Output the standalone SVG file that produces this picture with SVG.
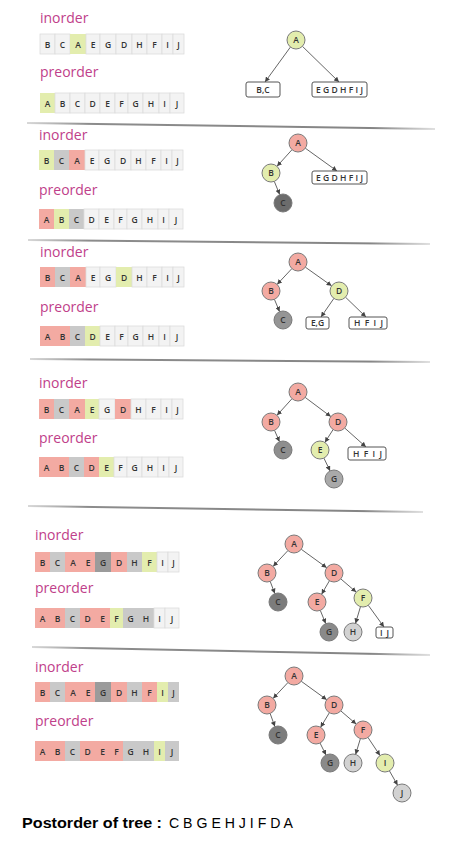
<svg xmlns="http://www.w3.org/2000/svg" width="467" height="848" viewBox="0 0 467 848">
<style>
.lbl{font-family:"Open Sans","Liberation Sans",sans-serif;font-size:14px;fill:#c0408a}
.cell text,.ct{font-family:"Open Sans","Liberation Sans",sans-serif;font-size:8.5px;font-weight:600;fill:#333;text-anchor:middle}
.s{fill:#f3aaa2}.g{fill:#c9c9c9}.d{fill:#9b9b9b}.y{fill:#e3edae}.w{fill:#f3f3f3;stroke:#dcdcdc;stroke-width:0.8}
.nd{stroke:#7a7a7a;stroke-width:1}
.nt{font-family:"Open Sans","Liberation Sans",sans-serif;font-size:8.5px;font-weight:600;fill:#333;text-anchor:middle}
.bx{fill:#fff;stroke:#555;stroke-width:1}
.bt{font-family:"Open Sans","Liberation Sans",sans-serif;font-size:8.5px;font-weight:600;fill:#333}
.bc{font-family:"Open Sans","Liberation Sans",sans-serif;font-size:8.5px;font-weight:600;fill:#333;text-anchor:middle}
.e{stroke:#666;stroke-width:1;fill:none;marker-end:url(#ah)}
.sep{stroke:url(#sg);stroke-width:2;fill:none}
</style>
<defs>
<marker id="ah" viewBox="0 0 6 6" refX="6" refY="3" markerWidth="5" markerHeight="5" markerUnits="userSpaceOnUse" orient="auto"><path d="M0,0 L6,3 L0,6 z" fill="#444"/></marker>
<linearGradient id="sg" x1="0" y1="0" x2="1" y2="0"><stop offset="0" stop-color="#d8d8d8"/><stop offset="0.15" stop-color="#8c8c8c"/><stop offset="0.85" stop-color="#858585"/><stop offset="1" stop-color="#e0e0e0"/></linearGradient>
</defs>
<rect width="467" height="848" fill="#fff"/>

<!-- separators -->
<g id="separators">
<path class="sep" d="M27,123 L435,129"/>
<path class="sep" d="M28,240 L430,244"/>
<path class="sep" d="M30,359 L430,362"/>
<path class="sep" d="M28,506 L423,512"/>
<path class="sep" d="M32,647 L430,655"/>
</g>

<!-- labels -->
<g id="labels">
<text class="lbl" x="40" y="23">inorder</text>
<text class="lbl" x="40" y="77">preorder</text>
<text class="lbl" x="39" y="140">inorder</text>
<text class="lbl" x="39" y="195">preorder</text>
<text class="lbl" x="40" y="257">inorder</text>
<text class="lbl" x="40" y="312">preorder</text>
<text class="lbl" x="39" y="388">inorder</text>
<text class="lbl" x="39" y="443">preorder</text>
<text class="lbl" x="35" y="540">inorder</text>
<text class="lbl" x="35" y="593">preorder</text>
<text class="lbl" x="35" y="672">inorder</text>
<text class="lbl" x="35" y="726">preorder</text>
</g>

<!-- Panel 1 arrays -->
<g id="p1-in" class="cell" transform="translate(40,34)">
<rect class="w" x="0" width="15" height="20"/><rect class="w" x="15" width="15" height="20"/><rect class="y" x="30" width="16" height="20"/><rect class="w" x="46" width="14" height="20"/><rect class="w" x="60" width="16" height="20"/><rect class="w" x="76" width="16" height="20"/><rect class="w" x="92" width="15" height="20"/><rect class="w" x="107" width="15" height="20"/><rect class="w" x="122" width="11" height="20"/><rect class="w" x="133" width="11" height="20"/>
<text x="7.5" y="14">B</text><text x="22.5" y="14">C</text><text x="38" y="14">A</text><text x="53" y="14">E</text><text x="68" y="14">G</text><text x="84" y="14">D</text><text x="99.5" y="14">H</text><text x="114.5" y="14">F</text><text x="127.5" y="14">I</text><text x="138.5" y="14">J</text>
</g>
<g id="p1-pre" class="cell" transform="translate(40,93)">
<rect class="y" x="0" width="15" height="20"/><rect class="w" x="15" width="15" height="20"/><rect class="w" x="30" width="15" height="20"/><rect class="w" x="45" width="15" height="20"/><rect class="w" x="60" width="15" height="20"/><rect class="w" x="75" width="13" height="20"/><rect class="w" x="88" width="15" height="20"/><rect class="w" x="103" width="16" height="20"/><rect class="w" x="119" width="11" height="20"/><rect class="w" x="130" width="14" height="20"/>
<text x="7.5" y="14">A</text><text x="22.5" y="14">B</text><text x="37.5" y="14">C</text><text x="52.5" y="14">D</text><text x="67.5" y="14">E</text><text x="81.5" y="14">F</text><text x="95.5" y="14">G</text><text x="111" y="14">H</text><text x="124.5" y="14">I</text><text x="137" y="14">J</text>
</g>

<!-- Panel 2 arrays -->
<g id="p2-in" class="cell" transform="translate(39,150)">
<rect class="y" x="0" width="15" height="20"/><rect class="g" x="15" width="15" height="20"/><rect class="s" x="30" width="16" height="20"/><rect class="w" x="46" width="14" height="20"/><rect class="w" x="60" width="16" height="20"/><rect class="w" x="76" width="16" height="20"/><rect class="w" x="92" width="15" height="20"/><rect class="w" x="107" width="15" height="20"/><rect class="w" x="122" width="11" height="20"/><rect class="w" x="133" width="11" height="20"/>
<text x="7.5" y="14">B</text><text x="22.5" y="14">C</text><text x="38" y="14">A</text><text x="53" y="14">E</text><text x="68" y="14">G</text><text x="84" y="14">D</text><text x="99.5" y="14">H</text><text x="114.5" y="14">F</text><text x="127.5" y="14">I</text><text x="138.5" y="14">J</text>
</g>
<g id="p2-pre" class="cell" transform="translate(39,209)">
<rect class="s" x="0" width="15" height="20"/><rect class="y" x="15" width="15" height="20"/><rect class="g" x="30" width="15" height="20"/><rect class="w" x="45" width="15" height="20"/><rect class="w" x="60" width="15" height="20"/><rect class="w" x="75" width="13" height="20"/><rect class="w" x="88" width="15" height="20"/><rect class="w" x="103" width="16" height="20"/><rect class="w" x="119" width="11" height="20"/><rect class="w" x="130" width="14" height="20"/>
<text x="7.5" y="14">A</text><text x="22.5" y="14">B</text><text x="37.5" y="14">C</text><text x="52.5" y="14">D</text><text x="67.5" y="14">E</text><text x="81.5" y="14">F</text><text x="95.5" y="14">G</text><text x="111" y="14">H</text><text x="124.5" y="14">I</text><text x="137" y="14">J</text>
</g>

<!-- Panel 3 arrays -->
<g id="p3-in" class="cell" transform="translate(40,267)">
<rect class="s" x="0" width="15" height="20"/><rect class="g" x="15" width="15" height="20"/><rect class="s" x="30" width="16" height="20"/><rect class="w" x="46" width="14" height="20"/><rect class="w" x="60" width="16" height="20"/><rect class="y" x="76" width="16" height="20"/><rect class="w" x="92" width="15" height="20"/><rect class="w" x="107" width="15" height="20"/><rect class="w" x="122" width="11" height="20"/><rect class="w" x="133" width="11" height="20"/>
<text x="7.5" y="14">B</text><text x="22.5" y="14">C</text><text x="38" y="14">A</text><text x="53" y="14">E</text><text x="68" y="14">G</text><text x="84" y="14">D</text><text x="99.5" y="14">H</text><text x="114.5" y="14">F</text><text x="127.5" y="14">I</text><text x="138.5" y="14">J</text>
</g>
<g id="p3-pre" class="cell" transform="translate(40,326)">
<rect class="s" x="0" width="15" height="20"/><rect class="s" x="15" width="15" height="20"/><rect class="g" x="30" width="15" height="20"/><rect class="y" x="45" width="15" height="20"/><rect class="w" x="60" width="15" height="20"/><rect class="w" x="75" width="13" height="20"/><rect class="w" x="88" width="15" height="20"/><rect class="w" x="103" width="16" height="20"/><rect class="w" x="119" width="11" height="20"/><rect class="w" x="130" width="14" height="20"/>
<text x="7.5" y="14">A</text><text x="22.5" y="14">B</text><text x="37.5" y="14">C</text><text x="52.5" y="14">D</text><text x="67.5" y="14">E</text><text x="81.5" y="14">F</text><text x="95.5" y="14">G</text><text x="111" y="14">H</text><text x="124.5" y="14">I</text><text x="137" y="14">J</text>
</g>

<!-- Panel 4 arrays -->
<g id="p4-in" class="cell" transform="translate(39,399)">
<rect class="s" x="0" width="15" height="20"/><rect class="g" x="15" width="15" height="20"/><rect class="s" x="30" width="16" height="20"/><rect class="y" x="46" width="14" height="20"/><rect class="w" x="60" width="16" height="20"/><rect class="s" x="76" width="16" height="20"/><rect class="w" x="92" width="15" height="20"/><rect class="w" x="107" width="15" height="20"/><rect class="w" x="122" width="11" height="20"/><rect class="w" x="133" width="11" height="20"/>
<text x="7.5" y="14">B</text><text x="22.5" y="14">C</text><text x="38" y="14">A</text><text x="53" y="14">E</text><text x="68" y="14">G</text><text x="84" y="14">D</text><text x="99.5" y="14">H</text><text x="114.5" y="14">F</text><text x="127.5" y="14">I</text><text x="138.5" y="14">J</text>
</g>
<g id="p4-pre" class="cell" transform="translate(39,457)">
<rect class="s" x="0" width="15" height="20"/><rect class="s" x="15" width="15" height="20"/><rect class="g" x="30" width="15" height="20"/><rect class="s" x="45" width="15" height="20"/><rect class="y" x="60" width="15" height="20"/><rect class="w" x="75" width="13" height="20"/><rect class="w" x="88" width="15" height="20"/><rect class="w" x="103" width="16" height="20"/><rect class="w" x="119" width="11" height="20"/><rect class="w" x="130" width="14" height="20"/>
<text x="7.5" y="14">A</text><text x="22.5" y="14">B</text><text x="37.5" y="14">C</text><text x="52.5" y="14">D</text><text x="67.5" y="14">E</text><text x="81.5" y="14">F</text><text x="95.5" y="14">G</text><text x="111" y="14">H</text><text x="124.5" y="14">I</text><text x="137" y="14">J</text>
</g>

<!-- Panel 5 arrays -->
<g id="p5-in" class="cell" transform="translate(35,552)">
<rect class="s" x="0" width="15" height="20"/><rect class="g" x="15" width="15" height="20"/><rect class="s" x="30" width="16" height="20"/><rect class="s" x="46" width="14" height="20"/><rect class="d" x="60" width="16" height="20"/><rect class="s" x="76" width="16" height="20"/><rect class="g" x="92" width="15" height="20"/><rect class="y" x="107" width="15" height="20"/><rect class="w" x="122" width="11" height="20"/><rect class="w" x="133" width="11" height="20"/>
<text x="7.5" y="14">B</text><text x="22.5" y="14">C</text><text x="38" y="14">A</text><text x="53" y="14">E</text><text x="68" y="14">G</text><text x="84" y="14">D</text><text x="99.5" y="14">H</text><text x="114.5" y="14">F</text><text x="127.5" y="14">I</text><text x="138.5" y="14">J</text>
</g>
<g id="p5-pre" class="cell" transform="translate(35,608)">
<rect class="s" x="0" width="15" height="20"/><rect class="s" x="15" width="15" height="20"/><rect class="g" x="30" width="15" height="20"/><rect class="s" x="45" width="15" height="20"/><rect class="s" x="60" width="15" height="20"/><rect class="y" x="75" width="13" height="20"/><rect class="g" x="88" width="15" height="20"/><rect class="g" x="103" width="16" height="20"/><rect class="w" x="119" width="11" height="20"/><rect class="w" x="130" width="14" height="20"/>
<text x="7.5" y="14">A</text><text x="22.5" y="14">B</text><text x="37.5" y="14">C</text><text x="52.5" y="14">D</text><text x="67.5" y="14">E</text><text x="81.5" y="14">F</text><text x="95.5" y="14">G</text><text x="111" y="14">H</text><text x="124.5" y="14">I</text><text x="137" y="14">J</text>
</g>

<!-- Panel 6 arrays -->
<g id="p6-in" class="cell" transform="translate(35,682)">
<rect class="s" x="0" width="15" height="20"/><rect class="g" x="15" width="15" height="20"/><rect class="s" x="30" width="16" height="20"/><rect class="s" x="46" width="14" height="20"/><rect class="d" x="60" width="16" height="20"/><rect class="s" x="76" width="16" height="20"/><rect class="g" x="92" width="15" height="20"/><rect class="s" x="107" width="15" height="20"/><rect class="y" x="122" width="11" height="20"/><rect class="g" x="133" width="11" height="20"/>
<text x="7.5" y="14">B</text><text x="22.5" y="14">C</text><text x="38" y="14">A</text><text x="53" y="14">E</text><text x="68" y="14">G</text><text x="84" y="14">D</text><text x="99.5" y="14">H</text><text x="114.5" y="14">F</text><text x="127.5" y="14">I</text><text x="138.5" y="14">J</text>
</g>
<g id="p6-pre" class="cell" transform="translate(35,741)">
<rect class="s" x="0" width="15" height="20"/><rect class="s" x="15" width="15" height="20"/><rect class="g" x="30" width="15" height="20"/><rect class="s" x="45" width="15" height="20"/><rect class="s" x="60" width="15" height="20"/><rect class="s" x="75" width="13" height="20"/><rect class="g" x="88" width="15" height="20"/><rect class="g" x="103" width="16" height="20"/><rect class="y" x="119" width="11" height="20"/><rect class="g" x="130" width="14" height="20"/>
<text x="7.5" y="14">A</text><text x="22.5" y="14">B</text><text x="37.5" y="14">C</text><text x="52.5" y="14">D</text><text x="67.5" y="14">E</text><text x="81.5" y="14">F</text><text x="95.5" y="14">G</text><text x="111" y="14">H</text><text x="124.5" y="14">I</text><text x="137" y="14">J</text>
</g>

<!-- connectors -->
<g id="connectors">
<line class="e" x1="290.4" y1="47.1" x2="265" y2="82"/>
<line class="e" x1="302.4" y1="46.3" x2="339" y2="82"/>

<line class="e" x1="292" y1="149.7" x2="277" y2="166.3"/>
<line class="e" x1="274.3" y1="181.4" x2="279.7" y2="194.6"/>
<line class="e" x1="305.3" y1="148.2" x2="337" y2="171"/>

<line class="e" x1="291.9" y1="268.6" x2="277.1" y2="284.4"/>
<line class="e" x1="305.4" y1="267.2" x2="331.6" y2="285.8"/>
<line class="e" x1="274.4" y1="299.3" x2="279.6" y2="311.7"/>
<line class="e" x1="333.9" y1="298.4" x2="321" y2="317"/>
<line class="e" x1="345.5" y1="297.2" x2="366" y2="317"/>

<line class="e" x1="292" y1="398.7" x2="277" y2="415.3"/>
<line class="e" x1="305.2" y1="397.4" x2="330.8" y2="416.6"/>
<line class="e" x1="274.5" y1="430.3" x2="279.5" y2="441.7"/>
<line class="e" x1="333.1" y1="429.6" x2="324.9" y2="442.4"/>
<line class="e" x1="344.7" y1="428" x2="366" y2="447"/>
<line class="e" x1="323.9" y1="458.1" x2="330.1" y2="470.9"/>

<line class="e" x1="287.9" y1="550.6" x2="273.1" y2="566.4"/>
<line class="e" x1="301.3" y1="549.3" x2="326.7" y2="567.7"/>
<line class="e" x1="270.2" y1="581.4" x2="274.8" y2="593.6"/>
<line class="e" x1="329.4" y1="580.8" x2="321.6" y2="594.2"/>
<line class="e" x1="340.8" y1="578.9" x2="356.2" y2="592.1"/>
<line class="e" x1="320.3" y1="610.4" x2="325.7" y2="623.6"/>
<line class="e" x1="360.5" y1="606.6" x2="355.5" y2="623.4"/>
<line class="e" x1="368.3" y1="605.3" x2="384" y2="627"/>

<line class="e" x1="287.9" y1="682.6" x2="273.1" y2="698.4"/>
<line class="e" x1="301.3" y1="681.3" x2="326.7" y2="699.7"/>
<line class="e" x1="270.1" y1="713.4" x2="274.9" y2="726.6"/>
<line class="e" x1="329.4" y1="712.7" x2="320.6" y2="727.3"/>
<line class="e" x1="340.8" y1="710.9" x2="356.2" y2="724.1"/>
<line class="e" x1="320" y1="743" x2="326" y2="755"/>
<line class="e" x1="360.4" y1="738.6" x2="355.6" y2="754.4"/>
<line class="e" x1="368" y1="737.5" x2="380" y2="755.5"/>
<line class="e" x1="389.4" y1="770.8" x2="397.6" y2="785.2"/>
</g>

<!-- Panel 1 tree -->
<g id="p1-A"><circle class="nd" cx="296" cy="40" r="9" fill="#e3edae"/><text class="nt" x="296" y="43">A</text></g>
<g id="p1-BC"><rect class="bx" x="246" y="82" width="34" height="15" rx="2"/><text class="bc" x="263" y="92.5">B,C</text></g>
<g id="p1-EGDHFIJ"><rect class="bx" x="312" y="82" width="55" height="15" rx="2"/><text class="bt" x="316" y="92.5" textLength="47" lengthAdjust="spacing">EGDHFIJ</text></g>

<!-- Panel 2 tree -->
<g id="p2-A"><circle class="nd" cx="298" cy="143" r="9" fill="#f3aaa2"/><text class="nt" x="298" y="146">A</text></g>
<g id="p2-B"><circle class="nd" cx="271" cy="173" r="9" fill="#e3edae"/><text class="nt" x="271" y="176">B</text></g>
<g id="p2-C"><circle class="nd" cx="283" cy="203" r="9" fill="#6c6c6c"/><text class="nt" x="283" y="206">C</text></g>
<g id="p2-EGDHFIJ"><rect class="bx" x="312" y="171" width="55" height="13" rx="2"/><text class="bt" x="316" y="180.5" textLength="47" lengthAdjust="spacing">EGDHFIJ</text></g>

<!-- Panel 3 tree -->
<g id="p3-A"><circle class="nd" cx="298" cy="262" r="9" fill="#f3aaa2"/><text class="nt" x="298" y="265">A</text></g>
<g id="p3-B"><circle class="nd" cx="271" cy="291" r="9" fill="#f3aaa2"/><text class="nt" x="271" y="294">B</text></g>
<g id="p3-D"><circle class="nd" cx="339" cy="291" r="9" fill="#e3edae"/><text class="nt" x="339" y="294">D</text></g>
<g id="p3-C"><circle class="nd" cx="283" cy="320" r="9" fill="#959595"/><text class="nt" x="283" y="323">C</text></g>
<g id="p3-EG"><rect class="bx" x="306" y="317" width="23" height="12" rx="2"/><text class="bc" x="317.5" y="326">E,G</text></g>
<g id="p3-HFIJ"><rect class="bx" x="349" y="317" width="38" height="12" rx="2"/><text class="bt" x="354" y="326" textLength="29" lengthAdjust="spacing">HFIJ</text></g>

<!-- Panel 4 tree -->
<g id="p4-A"><circle class="nd" cx="298" cy="392" r="9" fill="#f3aaa2"/><text class="nt" x="298" y="395">A</text></g>
<g id="p4-B"><circle class="nd" cx="271" cy="422" r="9" fill="#f3aaa2"/><text class="nt" x="271" y="425">B</text></g>
<g id="p4-D"><circle class="nd" cx="338" cy="422" r="9" fill="#f3aaa2"/><text class="nt" x="338" y="425">D</text></g>
<g id="p4-C"><circle class="nd" cx="283" cy="450" r="9" fill="#8e8e8e"/><text class="nt" x="283" y="453">C</text></g>
<g id="p4-E"><circle class="nd" cx="320" cy="450" r="9" fill="#e3edae"/><text class="nt" x="320" y="453">E</text></g>
<g id="p4-G"><circle class="nd" cx="334" cy="479" r="9" fill="#a9a9a9"/><text class="nt" x="334" y="482">G</text></g>
<g id="p4-HFIJ"><rect class="bx" x="348" y="447" width="38" height="13" rx="2"/><text class="bt" x="353" y="456.5" textLength="29" lengthAdjust="spacing">HFIJ</text></g>

<!-- Panel 5 tree -->
<g id="p5-A"><circle class="nd" cx="294" cy="544" r="9" fill="#f3aaa2"/><text class="nt" x="294" y="547">A</text></g>
<g id="p5-B"><circle class="nd" cx="267" cy="573" r="9" fill="#f3aaa2"/><text class="nt" x="267" y="576">B</text></g>
<g id="p5-D"><circle class="nd" cx="334" cy="573" r="9" fill="#f3aaa2"/><text class="nt" x="334" y="576">D</text></g>
<g id="p5-C"><circle class="nd" cx="278" cy="602" r="9" fill="#7c7c7c"/><text class="nt" x="278" y="605">C</text></g>
<g id="p5-E"><circle class="nd" cx="317" cy="602" r="9" fill="#f3aaa2"/><text class="nt" x="317" y="605">E</text></g>
<g id="p5-F"><circle class="nd" cx="363" cy="598" r="9" fill="#e3edae"/><text class="nt" x="363" y="601">F</text></g>
<g id="p5-G"><circle class="nd" cx="329" cy="632" r="9" fill="#8a8a8a"/><text class="nt" x="329" y="635">G</text></g>
<g id="p5-H"><circle class="nd" cx="353" cy="632" r="9" fill="#d2d2d2"/><text class="nt" x="353" y="635">H</text></g>
<g id="p5-IJ"><rect class="bx" x="376" y="627" width="17" height="11" rx="2"/><text class="bt" x="380" y="635.5" textLength="9" lengthAdjust="spacing">IJ</text></g>

<!-- Panel 6 tree -->
<g id="p6-A"><circle class="nd" cx="294" cy="676" r="9" fill="#f3aaa2"/><text class="nt" x="294" y="679">A</text></g>
<g id="p6-B"><circle class="nd" cx="267" cy="705" r="9" fill="#f3aaa2"/><text class="nt" x="267" y="708">B</text></g>
<g id="p6-D"><circle class="nd" cx="334" cy="705" r="9" fill="#f3aaa2"/><text class="nt" x="334" y="708">D</text></g>
<g id="p6-C"><circle class="nd" cx="278" cy="735" r="9" fill="#7c7c7c"/><text class="nt" x="278" y="738">C</text></g>
<g id="p6-E"><circle class="nd" cx="316" cy="735" r="9" fill="#f3aaa2"/><text class="nt" x="316" y="738">E</text></g>
<g id="p6-F"><circle class="nd" cx="363" cy="730" r="9" fill="#f3aaa2"/><text class="nt" x="363" y="733">F</text></g>
<g id="p6-G"><circle class="nd" cx="330" cy="763" r="9" fill="#8a8a8a"/><text class="nt" x="330" y="766">G</text></g>
<g id="p6-H"><circle class="nd" cx="353" cy="763" r="9" fill="#d2d2d2"/><text class="nt" x="353" y="766">H</text></g>
<g id="p6-I"><circle class="nd" cx="385" cy="763" r="9" fill="#e3edae"/><text class="nt" x="385" y="766">I</text></g>
<g id="p6-J"><circle class="nd" cx="402" cy="793" r="9" fill="#d2d2d2"/><text class="nt" x="402" y="796">J</text></g>

<!-- footer -->
<text x="22" y="828" font-family="'Liberation Sans',Arial,sans-serif" font-size="14" font-weight="bold" fill="#000" textLength="140" lengthAdjust="spacingAndGlyphs">Postorder of tree :</text>
<text x="169" y="828" font-family="'Liberation Sans',Arial,sans-serif" font-size="14" fill="#000" textLength="124" lengthAdjust="spacingAndGlyphs">C B G E H J I F D A</text>
</svg>
